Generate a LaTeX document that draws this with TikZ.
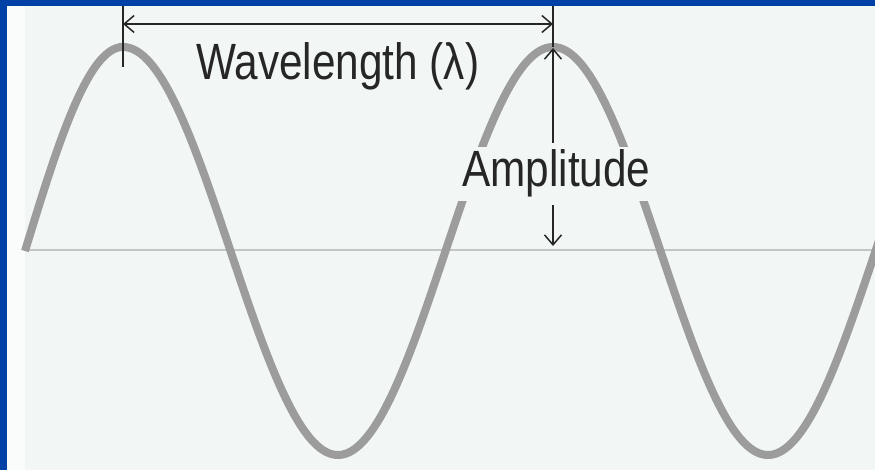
\documentclass[tikz,border=0pt]{standalone}
\usepackage{fontspec}
\setmainfont{Liberation Sans}
\usepackage{graphicx}
\usetikzlibrary{arrows.meta}
\definecolor{frameblue}{HTML}{0041A8}
\definecolor{bgpaper}{HTML}{F2F7F6}
\definecolor{stripwhite}{HTML}{FAFCFC}
\definecolor{wavegray}{HTML}{9C9C9C}
\definecolor{axisgray}{HTML}{C2C6C5}
\definecolor{inkblack}{HTML}{262626}
\tikzset{
  wave/.style={draw=wavegray, line width=8pt},
  axisline/.style={draw=axisgray, line width=2.5pt},
  dimline/.style={draw=inkblack, line width=1.5pt},
  barb/.style={-{Straight Barb[length=10pt,width=17pt,line width=1.5pt]}},
  dbarb/.style={{Straight Barb[length=10pt,width=17pt,line width=1.5pt]}-{Straight Barb[length=10pt,width=17pt,line width=1.5pt]}},
  lbl/.style={inner xsep=4pt, inner ysep=3pt, fill=bgpaper, text=inkblack, font=\fontsize{51}{58}\selectfont}
}
\begin{document}
\begin{tikzpicture}[x=1pt,y=-1pt]
\useasboundingbox (0,0) rectangle (875,470);
\fill[bgpaper] (0,0) rectangle (875,470);
\fill[stripwhite] (7,0) rectangle (25,470);
% axis
\coordinate (ax0) at (25,250);
\coordinate (ax1) at (875,250);
\draw[axisline] (ax0) -- (ax1);
% wave
\draw[wave] plot[domain=25:123, samples=50] (\x, {251-204*sin(0.9184*(\x-25))})
  -- plot[domain=123:885, samples=300] (\x, {251-204*cos(0.83721*(\x-123))});
% ticks
\coordinate (lt0) at (123,0);
\coordinate (lt1) at (123,67);
\coordinate (rt0) at (553,0);
\coordinate (rt1) at (553,47);
\draw[dimline] (lt0) -- (lt1);
\draw[dimline] (rt0) -- (rt1);
% wavelength arrow
\coordinate (wa) at (123,24);
\coordinate (wb) at (553,24);
\draw[dimline, dbarb] (wa) -- (wb);
% amplitude arrows
\coordinate (au0) at (553,143);
\coordinate (au1) at (553,48);
\coordinate (ad0) at (553,205);
\coordinate (ad1) at (553,246);
\draw[dimline, barb] (au0) -- (au1);
\draw[dimline, barb] (ad0) -- (ad1);
% labels
\node[lbl, anchor=base west] (wl) at (192,80) {\scalebox{0.83}[1]{Wavelength (λ)}};
\node[lbl, anchor=base west] (am) at (458,187) {\scalebox{0.83}[1]{Amplitude}};
% frame
\fill[frameblue] (0,0) rectangle (875,6);
\fill[frameblue] (0,0) rectangle (7,470);
\end{tikzpicture}
\end{document}
